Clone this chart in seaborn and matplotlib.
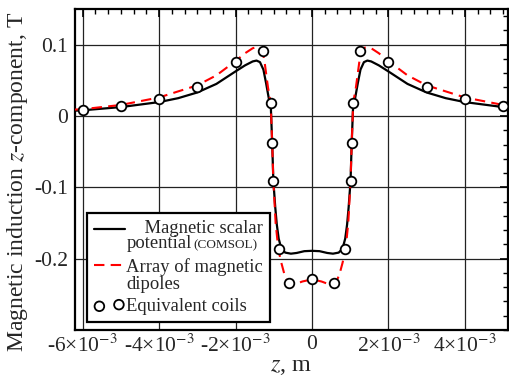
import matplotlib
matplotlib.use('Agg')
import matplotlib.pyplot as plt
import seaborn as sns
import pandas as pd
from matplotlib.ticker import FixedLocator, FixedFormatter, MultipleLocator

# ---- data (z in metres, B_z in tesla) ----
z_comsol = [-6.2e-3, -6.0e-3, -5.0e-3, -4.0e-3, -3.5e-3, -3.0e-3, -2.5e-3, -2.0e-3,
            -1.75e-3, -1.55e-3, -1.45e-3, -1.36e-3, -1.27e-3, -1.2e-3, -1.12e-3,
            -1.08e-3, -1.04e-3, -1.01e-3, -0.96e-3, -0.92e-3, -0.87e-3, -0.8e-3,
            -0.7e-3, -0.55e-3, -0.4e-3, -0.2e-3, 0.0,
            0.2e-3, 0.4e-3, 0.55e-3, 0.7e-3, 0.8e-3, 0.87e-3, 0.92e-3, 0.96e-3,
            1.01e-3, 1.04e-3, 1.08e-3, 1.12e-3, 1.2e-3, 1.27e-3, 1.36e-3, 1.45e-3,
            1.55e-3, 1.75e-3, 2.0e-3, 2.5e-3, 3.0e-3, 3.5e-3, 4.0e-3, 5.0e-3, 5.2e-3]
b_comsol = [0.0075, 0.008, 0.0125, 0.0195, 0.025, 0.033, 0.045, 0.0625,
            0.071, 0.0765, 0.0777, 0.0755, 0.065, 0.046, 0.022,
            0.0187, -0.0385, -0.091, -0.128, -0.152, -0.172, -0.186,
            -0.1915, -0.193, -0.192, -0.1895, -0.189,
            -0.1895, -0.192, -0.193, -0.1915, -0.186, -0.172, -0.152, -0.128,
            -0.091, -0.0385, 0.0187, 0.022, 0.046, 0.065, 0.0755, 0.0777,
            0.0765, 0.071, 0.0625, 0.045, 0.033, 0.025, 0.0195, 0.0125, 0.012]

z_dipoles = [-6.2e-3, -6.0e-3, -5.0e-3, -4.0e-3, -3.0e-3, -2.5e-3, -2.0e-3, -1.75e-3,
             -1.55e-3, -1.45e-3, -1.36e-3, -1.3e-3, -1.25e-3, -1.2e-3, -1.15e-3,
             -1.08e-3, -1.04e-3, -1.01e-3, -0.95e-3, -0.88e-3, -0.8e-3, -0.72e-3,
             -0.64e-3, -0.55e-3, -0.4e-3, -0.25e-3, 0.0,
             0.25e-3, 0.4e-3, 0.55e-3, 0.64e-3, 0.72e-3, 0.8e-3, 0.88e-3, 0.95e-3,
             1.01e-3, 1.04e-3, 1.08e-3, 1.15e-3, 1.2e-3, 1.25e-3, 1.3e-3, 1.36e-3,
             1.45e-3, 1.55e-3, 1.75e-3, 2.0e-3, 2.5e-3, 3.0e-3, 4.0e-3, 5.0e-3, 5.2e-3]
b_dipoles = [0.009, 0.0095, 0.0155, 0.026, 0.043, 0.057, 0.077, 0.088,
             0.095, 0.0965, 0.0955, 0.091, 0.08, 0.06, 0.04,
             0.0187, -0.0385, -0.091, -0.15, -0.187, -0.206, -0.222,
             -0.232, -0.236, -0.235, -0.232, -0.229,
             -0.232, -0.235, -0.236, -0.232, -0.222, -0.206, -0.187, -0.15,
             -0.091, -0.0385, 0.0187, 0.04, 0.06, 0.08, 0.091, 0.0955,
             0.0965, 0.095, 0.088, 0.077, 0.057, 0.043, 0.026, 0.0155, 0.0145]

z_coils = [-6.0e-3, -5.0e-3, -4.0e-3, -3.0e-3, -2.0e-3, -1.27e-3, -1.08e-3, -1.04e-3,
           -1.01e-3, -0.855e-3, -0.59e-3, 0.0, 0.59e-3, 0.855e-3, 1.01e-3, 1.04e-3,
           1.08e-3, 1.27e-3, 2.0e-3, 3.0e-3, 4.0e-3, 5.0e-3]
b_coils = [0.0089, 0.0135, 0.0233, 0.0405, 0.0760, 0.0910, 0.0187, -0.0385,
           -0.0907, -0.1860, -0.2345, -0.2285, -0.2345, -0.1860, -0.0907, -0.0385,
           0.0187, 0.0910, 0.0760, 0.0405, 0.0233, 0.0135]

x_ticks = [-6e-3, -4e-3, -2e-3, 0.0, 2e-3, 4e-3]
x_tick_labels = ['-6\u00d710$^{-3}$', '-4\u00d710$^{-3}$', '-2\u00d710$^{-3}$', '0',
                 '2\u00d710$^{-3}$', '4\u00d710$^{-3}$']
y_ticks = [0.1, 0.0, -0.1, -0.2]
y_tick_labels = ['0.1', '0', '-0.1', '-0.2']

label_comsol = '    Magnetic scalar\npotential'
label_comsol_small = '(COMSOL)'
label_dipoles = 'Array of magnetic\ndipoles'
label_coils = 'Equivalent coils'

# ---- style ----
sns.set_style('white')
plt.rcParams['font.family'] = ['Liberation Serif', 'DejaVu Serif']
plt.rcParams['mathtext.fontset'] = 'stix'
plt.rcParams['axes.unicode_minus'] = False

fig = plt.figure(figsize=(5.09, 3.82), dpi=100)
ax = fig.add_axes([75 / 509, 1 - 330 / 382, 433 / 509, 321 / 382])

df_c = pd.DataFrame({'z': z_comsol, 'B': b_comsol})
df_d = pd.DataFrame({'z': z_dipoles, 'B': b_dipoles})
df_k = pd.DataFrame({'z': z_coils, 'B': b_coils})

sns.lineplot(data=df_c, x='z', y='B', ax=ax, color='black', lw=1.6,
             sort=False, label=label_comsol, zorder=3)
sns.lineplot(data=df_d, x='z', y='B', ax=ax, color='#ff0000', lw=1.5,
             linestyle=(0, (5, 3)), sort=False, label=label_dipoles, zorder=3.5)
sns.scatterplot(data=df_k, x='z', y='B', ax=ax, s=48, color='white',
                edgecolor='black', linewidth=1.3, label=label_coils, zorder=4)

ax.set_xlim(-6.2e-3, 5.13e-3)
ax.set_ylim(-0.3, 0.15)

ax.xaxis.set_major_locator(FixedLocator(x_ticks))
ax.xaxis.set_major_formatter(FixedFormatter(x_tick_labels))
ax.xaxis.set_minor_locator(MultipleLocator(2e-3 / 6))
ax.yaxis.set_major_locator(FixedLocator(y_ticks))
ax.yaxis.set_major_formatter(FixedFormatter(y_tick_labels))
ax.yaxis.set_minor_locator(MultipleLocator(0.02))

ax.tick_params(which='both', direction='in', top=True, right=True,
               labelsize=15.5, color='black')
ax.tick_params(which='major', length=6, width=1.2, pad=5)
ax.tick_params(which='minor', length=3.5, width=1.0)
ax.tick_params(axis='x', which='major', pad=3.5)

ax.grid(True, which='major', color='#222222', lw=0.9)
ax.set_axisbelow(True)
for sp in ax.spines.values():
    sp.set_visible(True)
    sp.set_color('black')
    sp.set_linewidth(1.6)

ax.set_xlabel('$z$, m', fontsize=17.5)
ax.set_ylabel('Magnetic induction $z$-component, T', fontsize=17)
ax.xaxis.set_label_coords(0.5, -0.08)
ax.yaxis.set_label_coords(-0.105, 0.46)

handles, labels = ax.get_legend_handles_labels()
leg = ax.legend(handles, labels, loc='lower left', bbox_to_anchor=(0.0284, 0.0259),
                borderaxespad=0, frameon=True, fancybox=False, edgecolor='black',
                framealpha=1, fontsize=13.4, handlelength=1.65, handletextpad=0.1,
                borderpad=0.35, labelspacing=0.3, scatterpoints=2, numpoints=1)
leg.get_frame().set_linewidth(1.6)
leg.set_zorder(6)
texts = leg.get_texts()
texts[0].set_linespacing(0.88)
texts[1].set_linespacing(1.0)

# move line handles up to the first text line
lh = leg.legend_handles
lh[0].set_ydata(lh[0].get_ydata() + 5.2)
lh[1].set_ydata(lh[1].get_ydata() + 7.0)

renderer = fig.canvas.get_renderer()
tmp = fig.text(0, 0, 'potential', fontsize=13.4)
w_px = tmp.get_window_extent(renderer=renderer).width
tmp.remove()
ax.annotate(label_comsol_small, xy=(0, 0), xycoords=texts[0],
            xytext=(w_px * 72 / 100 + 1.5, 0.216 * 13.4), textcoords='offset points',
            fontsize=9.5, va='baseline', ha='left', zorder=10)

fig.savefig('out.png', dpi=100)
